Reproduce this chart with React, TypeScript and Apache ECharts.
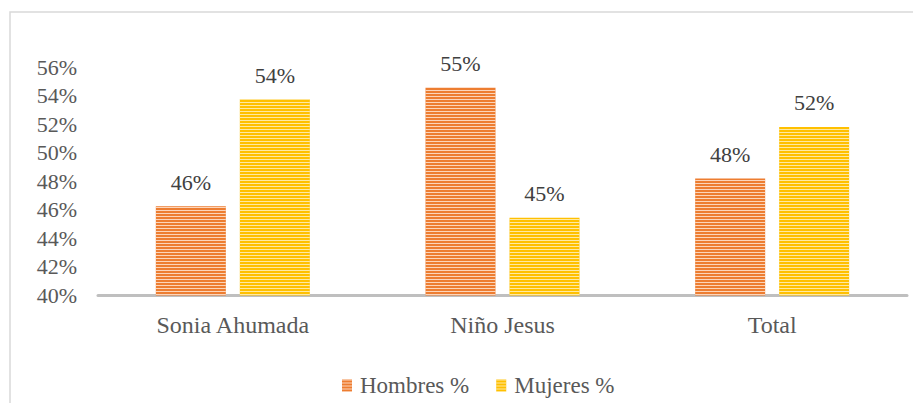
import React, { useEffect, useRef } from "react";
import * as echarts from "echarts";

const categories = ["Sonia Ahumada", "Niño Jesus", "Total"];
const hombres = [46.25, 54.55, 48.2];
const mujeres = [53.75, 45.45, 51.8];
const seriesNames = ["Hombres %", "Mujeres %"];

const FONT = "Liberation Serif";

export default function App() {
  const ref = useRef<HTMLDivElement>(null);
  useEffect(() => {
    document.body.style.margin = "0";
    const chart = echarts.init(ref.current!, null, { renderer: "svg" });
    const decal = (c: string) => ({
      symbol: "rect",
      symbolSize: 1,
      dashArrayX: [1, 0],
      dashArrayY: [1, 2],
      color: c,
      rotation: 0,
    });
    const label = {
      show: true,
      position: "top",
      distance: 13,
      fontFamily: FONT,
      fontSize: 22,
      color: "#404040",
      formatter: (p: any) => Math.round(p.value) + "%",
    };
    chart.setOption({
      animation: false,
      textStyle: { fontFamily: FONT },
      graphic: [
        {
          type: "rect",
          shape: { x: 10, y: 12, width: 1000, height: 500 },
          style: { fill: "none", stroke: "#d9d9d9", lineWidth: 1.5 },
          silent: true,
        },
      ],
      grid: { left: 98, right: 6, top: 67, bottom: 107.5 },
      legend: {
        top: 369,
        left: 337,
        itemWidth: 10,
        itemHeight: 12,
        itemGap: 27,
        icon: "rect",
        textStyle: { fontFamily: FONT, fontSize: 23, color: "#595959", padding: [0, 0, 0, 3] },
        data: seriesNames,
      },
      xAxis: {
        type: "category",
        data: categories,
        axisLine: { lineStyle: { color: "#bfbfbf", width: 3 } },
        axisTick: { show: false },
        axisLabel: { fontFamily: FONT, fontSize: 24, color: "#595959", margin: 17 },
      },
      yAxis: {
        type: "value",
        min: 40,
        max: 56,
        interval: 2,
        axisLine: { show: false },
        axisTick: { show: false },
        splitLine: { show: false },
        axisLabel: {
          fontFamily: FONT,
          fontSize: 22,
          color: "#595959",
          margin: 21,
          formatter: "{value}%",
        },
      },
      series: [
        {
          name: seriesNames[0],
          type: "bar",
          data: hombres,
          barWidth: 70,
          barGap: "20%",
          itemStyle: { color: "#ED7D31", decal: decal("rgba(255,228,210,0.85)") },
          label,
        },
        {
          name: seriesNames[1],
          type: "bar",
          data: mujeres,
          barWidth: 70,
          itemStyle: { color: "#FFC000", decal: decal("rgba(255,240,190,0.85)") },
          label,
        },
      ],
    });
    return () => chart.dispose();
  }, []);
  return <div ref={ref} style={{ width: 913, height: 403 }} />;
}
